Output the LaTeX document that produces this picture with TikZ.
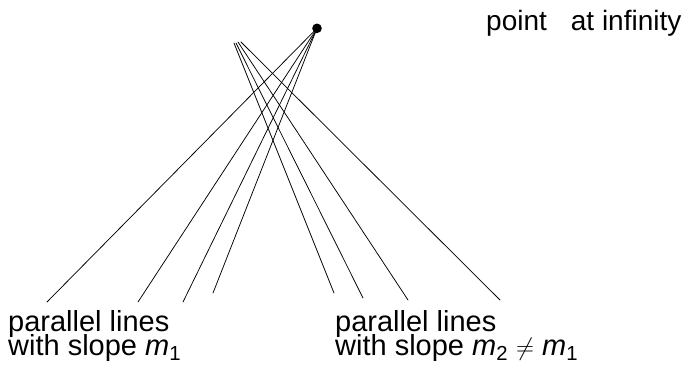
\documentclass[tikz,border=0pt]{standalone}
\usepackage{fontspec}
\setmainfont{Liberation Sans}
\begin{document}
\begin{tikzpicture}[x=1pt,y=-1pt,
  ln/.style={line width=0.75pt, line cap=round},
  lbl/.style={inner sep=0pt, font=\fontsize{29}{23.5}\selectfont},
  toplbl/.style={inner sep=0pt, font=\fontsize{28}{28}\selectfont}]
\useasboundingbox (0,0) rectangle (688,368);
% point at infinity
\coordinate (P) at (317,28.3);
\fill (P) circle (4.8);
% family 1 (through P)
\coordinate (a1) at (47,302);
\coordinate (a2) at (138,302);
\coordinate (a3) at (183,302);
\coordinate (a4) at (213,293);
\foreach \e in {a1,a2,a3,a4} \draw[ln] (P) -- (\e);
% family 2
\coordinate (b1s) at (234,43);
\coordinate (b2s) at (236,43);
\coordinate (b3s) at (238,42);
\coordinate (b4s) at (241,42);
\coordinate (b1) at (334,293);
\coordinate (b2) at (363,298);
\coordinate (b3) at (408,300);
\coordinate (b4) at (500,300);
\draw[ln] (b1s) -- (b1);
\draw[ln] (b2s) -- (b2);
\draw[ln] (b3s) -- (b3);
\draw[ln] (b4s) -- (b4);
% labels
\node[toplbl, anchor=base west] (inf) at (486,30) {point\hspace{24pt}at infinity};
\node[lbl, anchor=base west] (L1) at (8,331.7) {parallel lines};
\node[lbl, anchor=base west] (L2) at (8,355.2) {with slope \textit{m}\textsubscript{1}};
\node[lbl, anchor=base west] (R1) at (335,331.7) {parallel lines};
\node[lbl, anchor=base west] (R2) at (335,355.2) {with slope \textit{m}\textsubscript{2} $\neq$ \textit{m}\textsubscript{1}};
\end{tikzpicture}
\end{document}
